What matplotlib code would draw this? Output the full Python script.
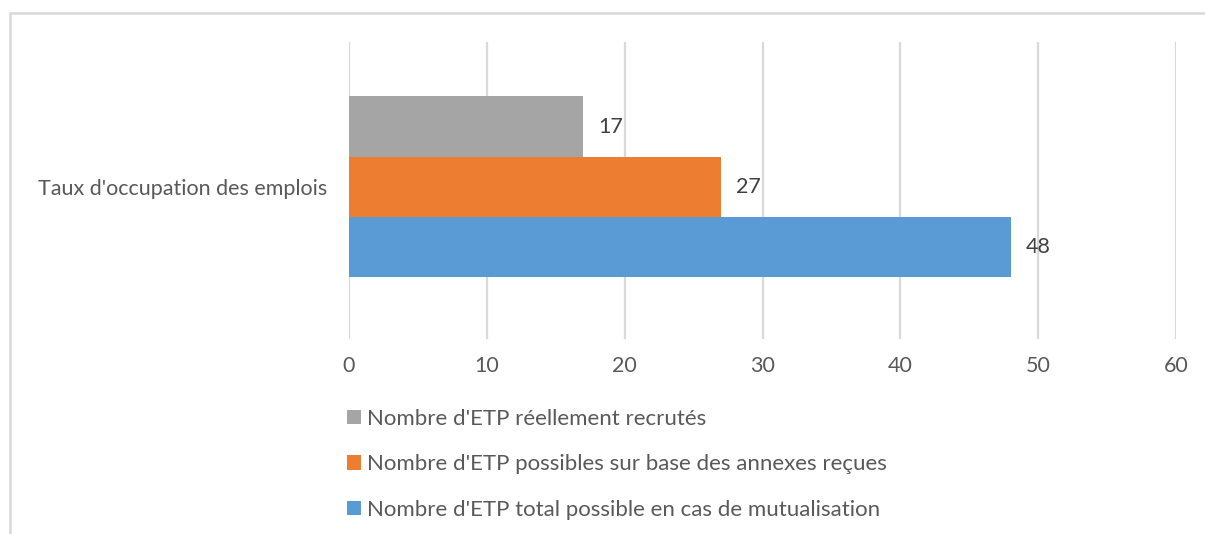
import matplotlib.pyplot as plt
from matplotlib.patches import Rectangle, Patch

# Data
category = "Taux d'occupation des emplois"
series_names = [
    "Nombre d'ETP réellement recrutés",
    "Nombre d'ETP possibles sur base des annexes reçues",
    "Nombre d'ETP total possible en cas de mutualisation",
]
series_values = [17, 27, 48]
series_colors = ['#A5A5A5', '#ED7D31', '#5B9BD5']
x_ticks = [0, 10, 20, 30, 40, 50, 60]

plt.rcParams['font.family'] = ['Lato', 'DejaVu Sans']

W, H = 1205, 534
fig = plt.figure(figsize=(W / 100, H / 100), dpi=100, facecolor='white')

# chart border (clipped on right and bottom like the reference)
fig.patches.append(Rectangle((10 / W, -0.2), 1.2, 1.2 - 13 / H,
                             transform=fig.transFigure, fill=False,
                             edgecolor='#D9D9D9', lw=1.8))

ax = fig.add_axes([349 / W, 1 - 339 / H, (1176 - 349) / W, (339 - 42) / H])

n = len(series_values)
positions = [n - 1 - i for i in range(n)]
for pos, val, col in zip(positions, series_values, series_colors):
    ax.barh(pos, val, height=1.0, color=col, zorder=3)
    ax.text(val + 1.1, pos, str(val), va='center', ha='left',
            fontsize=15.5, color='#404040')

ax.set_xlim(0, 60)
ax.set_ylim(1 - 2.52, 1 + 2.40)
ax.set_xticks(x_ticks)
ax.set_yticks([1])
ax.set_yticklabels([category])
ax.tick_params(axis='both', length=0, labelsize=15.5, labelcolor='#595959')
ax.tick_params(axis='x', pad=12)
ax.tick_params(axis='y', pad=16)
ax.grid(axis='x', color='#D9D9D9', lw=1.6, zorder=0)
for s in ax.spines.values():
    s.set_visible(False)

handles = [Patch(facecolor=c, edgecolor='none') for c in series_colors]
fig.legend(handles, series_names, loc='upper left',
           bbox_to_anchor=(347 / W, 1 - 409 / H), frameon=False,
           fontsize=16, labelcolor='#595959', handlelength=0.62,
           handleheight=0.62, handletextpad=0.3, labelspacing=1.14,
           borderaxespad=0, borderpad=0)

fig.savefig('out.png', dpi=100, facecolor='white')
